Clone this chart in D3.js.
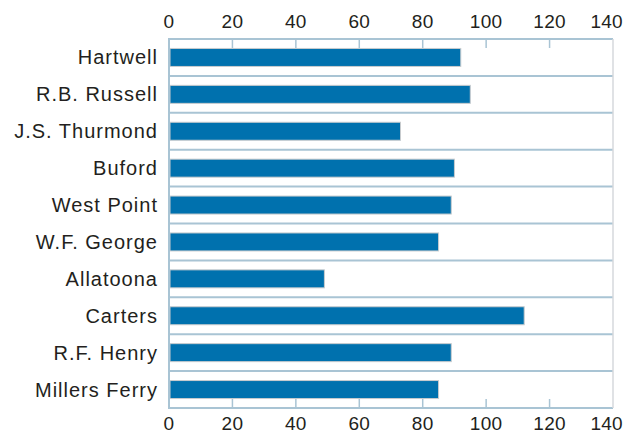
<!DOCTYPE html>
<html>
<head>
<meta charset="utf-8">
<script src="https://cdn.jsdelivr.net/npm/d3@7"></script>
<style>
  body { margin: 0; background: #fff; }
  text { font-family: "Liberation Sans", Arial, sans-serif; fill: #231f20; }
</style>
</head>
<body>
<svg id="chart" width="626" height="433"></svg>
<script>
const dams = ["Hartwell", "R.B. Russell", "J.S. Thurmond", "Buford", "West Point",
  "W.F. George", "Allatoona", "Carters", "R.F. Henry", "Millers Ferry"];
const values = [92, 95, 73, 90, 89, 85, 49, 112, 89, 85];
const ticks = [0, 20, 40, 60, 80, 100, 120, 140];

const plotLeft = 169, plotRight = 613, plotTop = 39, plotBottom = 408;
const svg = d3.select("#chart");

const x = d3.scaleLinear().domain([0, 140]).range([plotLeft, plotRight]);
const y = d3.scaleBand().domain(dams).range([plotTop, plotBottom]).paddingInner(0).paddingOuter(0);
const barH = 18;
const lineCol = "#a9c4d4";

// row separators
svg.append("g").selectAll("line")
  .data(dams.slice(1))
  .enter().append("line")
  .attr("x1", plotLeft).attr("x2", plotRight)
  .attr("y1", d => y(d)).attr("y2", d => y(d))
  .attr("stroke", lineCol).attr("stroke-width", 2);

// top / bottom border
[plotTop, plotBottom].forEach(v => {
  svg.append("line")
    .attr("x1", plotLeft).attr("x2", plotRight)
    .attr("y1", v).attr("y2", v)
    .attr("stroke", lineCol).attr("stroke-width", 2);
});

// right border
svg.append("line")
  .attr("x1", plotRight).attr("x2", plotRight)
  .attr("y1", plotTop).attr("y2", plotBottom)
  .attr("stroke", "#d6d9dc").attr("stroke-width", 1.5);

// inner tick marks
const tickG = svg.append("g");
tickG.selectAll(".tt").data(ticks.slice(1, -1)).enter().append("line")
  .attr("x1", d => x(d)).attr("x2", d => x(d))
  .attr("y1", plotTop).attr("y2", plotTop + 9)
  .attr("stroke", lineCol).attr("stroke-width", 1.5);
tickG.selectAll(".tb").data(ticks.slice(1, -1)).enter().append("line")
  .attr("x1", d => x(d)).attr("x2", d => x(d))
  .attr("y1", plotBottom - 9).attr("y2", plotBottom)
  .attr("stroke", lineCol).attr("stroke-width", 1.5);

// bars
svg.append("g").selectAll("rect")
  .data(dams)
  .enter().append("rect")
  .attr("x", x(0) + 1)
  .attr("y", d => y(d) + y.bandwidth() / 2 - barH / 2)
  .attr("width", (d, i) => x(values[i]) - x(0) - 1)
  .attr("height", barH)
  .attr("fill", "#0071ae")
  .attr("stroke", "#c9ccce")
  .attr("stroke-width", 1);

// left axis line
svg.append("line")
  .attr("x1", plotLeft).attr("x2", plotLeft)
  .attr("y1", plotTop - 1).attr("y2", plotBottom + 1)
  .attr("stroke", lineCol).attr("stroke-width", 2);

// category labels
svg.append("g").selectAll("text")
  .data(dams)
  .enter().append("text")
  .attr("x", 158)
  .attr("y", d => y(d) + y.bandwidth() / 2)
  .attr("dy", "0.35em")
  .attr("text-anchor", "end")
  .attr("font-size", 20)
  .attr("letter-spacing", 1)
  .text(d => d);

// tick labels top and bottom; last one kept inside the page
const tickX = d => d === 140 ? 623 : x(d);
const tickAnchor = d => d === 140 ? "end" : "middle";
svg.append("g").selectAll("text")
  .data(ticks)
  .enter().append("text")
  .attr("x", tickX)
  .attr("y", 28)
  .attr("text-anchor", tickAnchor)
  .attr("font-size", 19)
  .attr("letter-spacing", 0.3)
  .text(d => d);
svg.append("g").selectAll("text")
  .data(ticks)
  .enter().append("text")
  .attr("x", tickX)
  .attr("y", 430)
  .attr("text-anchor", tickAnchor)
  .attr("font-size", 19)
  .attr("letter-spacing", 0.3)
  .text(d => d);
</script>
</body>
</html>
